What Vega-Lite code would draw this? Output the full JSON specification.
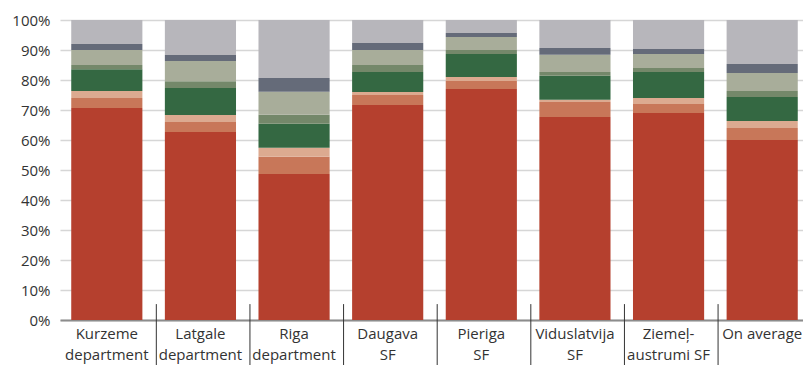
{
  "$schema": "https://vega.github.io/schema/vega-lite/v6.json",
  "width": 743,
  "height": 300,
  "autosize": {"type": "none"},
  "padding": {"left": 60, "top": 20, "right": 0, "bottom": 45},
  "config": {
    "view": {"stroke": null},
    "font": "Open Sans",
    "axis": {"labelFont": "Open Sans", "labelFontSize": 15, "labelColor": "#333333"}
  },
  "datasets": {
    "shares": [
      {"region": "Kurzeme\ndepartment", "segment": "S1", "ord": 1, "value": 70.7},
      {"region": "Kurzeme\ndepartment", "segment": "S2", "ord": 2, "value": 3.3},
      {"region": "Kurzeme\ndepartment", "segment": "S3", "ord": 3, "value": 2.3},
      {"region": "Kurzeme\ndepartment", "segment": "S4", "ord": 4, "value": 7.3},
      {"region": "Kurzeme\ndepartment", "segment": "S5", "ord": 5, "value": 1.4},
      {"region": "Kurzeme\ndepartment", "segment": "S6", "ord": 6, "value": 5.0},
      {"region": "Kurzeme\ndepartment", "segment": "S7", "ord": 7, "value": 2.0},
      {"region": "Kurzeme\ndepartment", "segment": "S8", "ord": 8, "value": 8.0},
      {"region": "Latgale\ndepartment", "segment": "S1", "ord": 1, "value": 62.7},
      {"region": "Latgale\ndepartment", "segment": "S2", "ord": 2, "value": 3.3},
      {"region": "Latgale\ndepartment", "segment": "S3", "ord": 3, "value": 2.3},
      {"region": "Latgale\ndepartment", "segment": "S4", "ord": 4, "value": 9.0},
      {"region": "Latgale\ndepartment", "segment": "S5", "ord": 5, "value": 2.3},
      {"region": "Latgale\ndepartment", "segment": "S6", "ord": 6, "value": 6.7},
      {"region": "Latgale\ndepartment", "segment": "S7", "ord": 7, "value": 2.0},
      {"region": "Latgale\ndepartment", "segment": "S8", "ord": 8, "value": 11.7},
      {"region": "Riga\ndepartment", "segment": "S1", "ord": 1, "value": 48.7},
      {"region": "Riga\ndepartment", "segment": "S2", "ord": 2, "value": 5.7},
      {"region": "Riga\ndepartment", "segment": "S3", "ord": 3, "value": 3.0},
      {"region": "Riga\ndepartment", "segment": "S4", "ord": 4, "value": 8.0},
      {"region": "Riga\ndepartment", "segment": "S5", "ord": 5, "value": 3.0},
      {"region": "Riga\ndepartment", "segment": "S6", "ord": 6, "value": 7.7},
      {"region": "Riga\ndepartment", "segment": "S7", "ord": 7, "value": 4.6},
      {"region": "Riga\ndepartment", "segment": "S8", "ord": 8, "value": 19.3},
      {"region": "Daugava\nSF", "segment": "S1", "ord": 1, "value": 71.7},
      {"region": "Daugava\nSF", "segment": "S2", "ord": 2, "value": 3.3},
      {"region": "Daugava\nSF", "segment": "S3", "ord": 3, "value": 1.0},
      {"region": "Daugava\nSF", "segment": "S4", "ord": 4, "value": 6.7},
      {"region": "Daugava\nSF", "segment": "S5", "ord": 5, "value": 2.3},
      {"region": "Daugava\nSF", "segment": "S6", "ord": 6, "value": 5.0},
      {"region": "Daugava\nSF", "segment": "S7", "ord": 7, "value": 2.3},
      {"region": "Daugava\nSF", "segment": "S8", "ord": 8, "value": 7.7},
      {"region": "Pieriga\nSF", "segment": "S1", "ord": 1, "value": 77.0},
      {"region": "Pieriga\nSF", "segment": "S2", "ord": 2, "value": 2.7},
      {"region": "Pieriga\nSF", "segment": "S3", "ord": 3, "value": 1.3},
      {"region": "Pieriga\nSF", "segment": "S4", "ord": 4, "value": 7.7},
      {"region": "Pieriga\nSF", "segment": "S5", "ord": 5, "value": 1.3},
      {"region": "Pieriga\nSF", "segment": "S6", "ord": 6, "value": 4.3},
      {"region": "Pieriga\nSF", "segment": "S7", "ord": 7, "value": 1.4},
      {"region": "Pieriga\nSF", "segment": "S8", "ord": 8, "value": 4.3},
      {"region": "Viduslatvija\nSF", "segment": "S1", "ord": 1, "value": 67.7},
      {"region": "Viduslatvija\nSF", "segment": "S2", "ord": 2, "value": 5.0},
      {"region": "Viduslatvija\nSF", "segment": "S3", "ord": 3, "value": 0.7},
      {"region": "Viduslatvija\nSF", "segment": "S4", "ord": 4, "value": 8.0},
      {"region": "Viduslatvija\nSF", "segment": "S5", "ord": 5, "value": 1.3},
      {"region": "Viduslatvija\nSF", "segment": "S6", "ord": 6, "value": 5.7},
      {"region": "Viduslatvija\nSF", "segment": "S7", "ord": 7, "value": 2.3},
      {"region": "Viduslatvija\nSF", "segment": "S8", "ord": 8, "value": 9.3},
      {"region": "Ziemeļ-\naustrumi SF", "segment": "S1", "ord": 1, "value": 69.0},
      {"region": "Ziemeļ-\naustrumi SF", "segment": "S2", "ord": 2, "value": 3.0},
      {"region": "Ziemeļ-\naustrumi SF", "segment": "S3", "ord": 3, "value": 2.0},
      {"region": "Ziemeļ-\naustrumi SF", "segment": "S4", "ord": 4, "value": 8.7},
      {"region": "Ziemeļ-\naustrumi SF", "segment": "S5", "ord": 5, "value": 1.3},
      {"region": "Ziemeļ-\naustrumi SF", "segment": "S6", "ord": 6, "value": 4.7},
      {"region": "Ziemeļ-\naustrumi SF", "segment": "S7", "ord": 7, "value": 1.6},
      {"region": "Ziemeļ-\naustrumi SF", "segment": "S8", "ord": 8, "value": 9.7},
      {"region": "On average", "segment": "S1", "ord": 1, "value": 60.0},
      {"region": "On average", "segment": "S2", "ord": 2, "value": 4.0},
      {"region": "On average", "segment": "S3", "ord": 3, "value": 2.3},
      {"region": "On average", "segment": "S4", "ord": 4, "value": 8.0},
      {"region": "On average", "segment": "S5", "ord": 5, "value": 2.0},
      {"region": "On average", "segment": "S6", "ord": 6, "value": 6.0},
      {"region": "On average", "segment": "S7", "ord": 7, "value": 3.0},
      {"region": "On average", "segment": "S8", "ord": 8, "value": 14.7}
    ],
    "separators": [
      {"region": "Latgale\ndepartment", "top": 0.053, "bottom": -0.15},
      {"region": "Riga\ndepartment", "top": 0.053, "bottom": -0.15},
      {"region": "Daugava\nSF", "top": 0.053, "bottom": -0.15},
      {"region": "Pieriga\nSF", "top": 0.053, "bottom": -0.15},
      {"region": "Viduslatvija\nSF", "top": 0.053, "bottom": -0.15},
      {"region": "Ziemeļ-\naustrumi SF", "top": 0.053, "bottom": -0.15},
      {"region": "On average", "top": 0.053, "bottom": -0.15}
    ]
  },
  "layer": [
    {
      "data": {"name": "shares"},
      "mark": {"type": "bar"},
      "encoding": {
        "x": {
          "field": "region",
          "type": "nominal",
          "sort": null,
          "scale": {"paddingInner": 0.24, "paddingOuter": 0.12, "range": [0, 749]},
          "axis": {
            "title": null,
            "labelAngle": 0,
            "ticks": false,
            "labelPadding": 6,
            "labelLineHeight": 21,
            "labelExpr": "split(datum.value, '\\n')",
            "domainColor": "#8c8c8c",
            "domainWidth": 2,
            "grid": false
          }
        },
        "y": {
          "field": "value",
          "type": "quantitative",
          "stack": "normalize",
          "scale": {"domain": [0, 1], "nice": false},
          "axis": {
            "title": null,
            "format": ".0%",
            "values": [0, 0.1, 0.2, 0.3, 0.4, 0.5, 0.6, 0.7, 0.8, 0.9, 1],
            "labelOverlap": false,
            "ticks": false,
            "domain": false,
            "labelPadding": 10,
            "gridColor": "#d6d6d6",
            "gridWidth": 1.5
          }
        },
        "color": {
          "field": "segment",
          "type": "nominal",
          "legend": null,
          "scale": {
            "domain": ["S1", "S2", "S3", "S4", "S5", "S6", "S7", "S8"],
            "range": ["#b5402e", "#c87759", "#dcaa90", "#346842", "#74886a", "#a8ad9a", "#656b79", "#b7b6bb"]
          }
        },
        "order": {"field": "ord", "type": "quantitative"}
      }
    },
    {
      "data": {"name": "separators"},
      "mark": {"type": "rule", "color": "#333333", "strokeWidth": 1},
      "encoding": {
        "x": {
          "field": "region",
          "type": "nominal",
          "sort": null,
          "bandPosition": -0.12,
          "axis": {
            "title": null,
            "labelAngle": 0,
            "ticks": false,
            "labelPadding": 6,
            "labelLineHeight": 21,
            "labelExpr": "split(datum.value, '\\n')",
            "domainColor": "#8c8c8c",
            "domainWidth": 2,
            "grid": false
          }
        },
        "y": {
          "field": "top",
          "type": "quantitative",
          "axis": {
            "title": null,
            "format": ".0%",
            "values": [0, 0.1, 0.2, 0.3, 0.4, 0.5, 0.6, 0.7, 0.8, 0.9, 1],
            "labelOverlap": false,
            "ticks": false,
            "domain": false,
            "labelPadding": 10,
            "gridColor": "#d6d6d6",
            "gridWidth": 1.5
          }
        },
        "y2": {"field": "bottom"}
      }
    }
  ]
}
